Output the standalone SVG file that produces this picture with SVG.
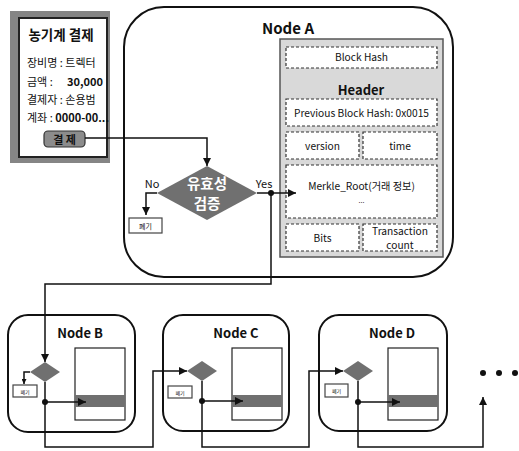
<svg xmlns="http://www.w3.org/2000/svg" width="519" height="451" viewBox="0 0 519 451">
<defs>
<marker id="ah" viewBox="0 0 10 10" refX="10" refY="5" markerWidth="9" markerHeight="8" markerUnits="userSpaceOnUse" orient="auto"><path d="M0,0 L10,5 L0,10 z" fill="#111"/></marker>
<marker id="ahs" viewBox="0 0 10 10" refX="10" refY="5" markerWidth="6" markerHeight="5" markerUnits="userSpaceOnUse" orient="auto"><path d="M0,0 L10,5 L0,10 z" fill="#111"/></marker>
<style>
text{font-family:"Noto Sans CJK KR","Liberation Sans",sans-serif;fill:#111}
.node{fill:#fff;stroke:#111;stroke-width:2}
.dash{fill:#fff;stroke:#333;stroke-width:1.2;stroke-dasharray:3 2}
.c{text-anchor:middle}
.t11{font-size:11px}
.t10{font-size:10.2px}
.ttl{font-size:13.5px;font-weight:bold}
.nl{font-size:13px;font-weight:bold}
.dia{fill:#707070}
.dt{font-size:14.5px;font-weight:bold;fill:#fff}
.blk{fill:#fff;stroke:#222;stroke-width:1.2}
.band{fill:#707070}
.dis{fill:#fff;stroke:#444;stroke-width:1.2}
.line{fill:none;stroke:#111;stroke-width:1.5}
</style>
</defs>

<g id="payment">
<rect x="10" y="11" width="100" height="152" fill="#858585"/>
<rect x="19" y="18" width="88" height="139" fill="#fff" stroke="#222" stroke-width="2"/>
<text x="61" y="40" class="c ttl">농기계 결제</text>
<text x="27" y="67" class="t11">장비명 : 트렉터</text>
<text x="27" y="86" class="t11">금액 :</text>
<text x="67" y="86" class="t11" font-weight="bold">30,000</text>
<text x="27" y="104" class="t11">결제자 : 손용범</text>
<text x="27" y="122" class="t11">계좌 : <tspan font-weight="bold">0000-00...</tspan></text>
<rect x="44" y="131" width="41" height="16" rx="4" fill="#8c8c8c" stroke="#333" stroke-width="1.2"/>
<text x="64.5" y="143.5" class="c t11" font-weight="bold" fill="#222">결  제</text>
</g>

<g id="nodeA">
<rect x="124" y="7" width="329" height="270" rx="40" class="node"/>
<text x="288" y="34" class="c" font-size="15" font-weight="bold">Node A</text>
<rect x="280" y="39" width="163" height="218" fill="#d9d9d9" stroke="#555" stroke-width="1.5"/>
<rect x="286" y="47" width="151" height="21" class="dash"/>
<text x="361.5" y="61" class="c t10">Block Hash</text>
<text x="361" y="94.5" class="c" font-size="13" font-weight="bold">Header</text>
<rect x="286" y="99" width="151" height="27" class="dash"/>
<text x="361.5" y="116.5" class="c t10">Previous Block Hash: 0x0015</text>
<rect x="286" y="132" width="73" height="27" class="dash"/>
<text x="322.5" y="149.5" class="c t10">version</text>
<rect x="363" y="132" width="74" height="27" class="dash"/>
<text x="400" y="149.5" class="c t10">time</text>
<rect x="286" y="165" width="151" height="53" class="dash"/>
<text x="361.5" y="190" class="c t10">Merkle_Root(거래 정보)</text>
<text x="361.5" y="203" class="c" font-size="7" fill="#666">...</text>
<rect x="286" y="224" width="73" height="27" class="dash"/>
<text x="322.5" y="241.5" class="c t10">Bits</text>
<rect x="363" y="224" width="74" height="27" class="dash"/>
<text x="400" y="234.5" class="c t10">Transaction</text>
<text x="400" y="248.5" class="c t10">count</text>
<polygon points="207,166 257,193 207,220 157,193" class="dia"/>
<text x="207" y="188.5" class="c dt" style="fill:#fff">유효성</text>
<text x="207" y="208.5" class="c dt" style="fill:#fff">검증</text>
<text x="152" y="188" class="c t11">No</text>
<text x="264" y="188" class="c t11">Yes</text>
<rect x="129" y="218" width="33" height="15" class="dis"/>
<text x="145.5" y="228.5" class="c" font-size="7">폐기</text>
</g>

<g id="nodeB">
<rect x="8" y="315" width="127" height="117" rx="20" class="node"/>
<text x="80" y="338" class="c nl">Node B</text>
<polygon points="45,362 60,372 45,382 30,372" class="dia"/>
<rect x="13" y="385" width="24" height="12" class="dis"/>
<text x="25" y="393.5" class="c" font-size="5">폐기</text>
<rect x="75" y="348" width="50" height="72" class="blk"/>
<rect x="75" y="395" width="50" height="12" class="band"/>
</g>

<g id="nodeC">
<rect x="163" y="315" width="126" height="116" rx="20" class="node"/>
<text x="236" y="338" class="c nl">Node C</text>
<polygon points="202,361 217,371 202,381 187,371" class="dia"/>
<rect x="168" y="386" width="24" height="12" class="dis"/>
<text x="180" y="394.5" class="c" font-size="5">폐기</text>
<rect x="232" y="348" width="50" height="72" class="blk"/>
<rect x="232" y="395" width="50" height="12" class="band"/>
</g>

<g id="nodeD">
<rect x="319" y="315" width="128" height="116" rx="20" class="node"/>
<text x="392" y="338" class="c nl">Node D</text>
<polygon points="358,361 373,371 358,381 343,371" class="dia"/>
<rect x="325" y="384" width="23" height="13" class="dis"/>
<text x="336.5" y="393" class="c" font-size="5">폐기</text>
<rect x="388" y="348" width="50" height="72" class="blk"/>
<rect x="388" y="395" width="50" height="12" class="band"/>
</g>

<g id="more">
<circle cx="483" cy="373" r="3" fill="#111"/>
<circle cx="499" cy="373" r="3" fill="#111"/>
<circle cx="515" cy="373" r="3" fill="#111"/>
</g>

<g id="connectors">
<path d="M85,138 H207 V166" class="line" marker-end="url(#ah)"/>
<path d="M157,193 H146 V215" class="line" marker-end="url(#ah)"/>
<path d="M257,193 H296" class="line" marker-end="url(#ah)"/>
<circle cx="271" cy="193" r="3" fill="#111"/>
<path d="M271,193 V284 H45 V362" class="line" marker-end="url(#ah)"/>
<path d="M30,372 H24 V384" class="line" stroke-width="1" marker-end="url(#ahs)"/>
<circle cx="45" cy="402" r="3" fill="#111"/>
<path d="M45,402 H86" class="line" marker-end="url(#ah)"/>
<path d="M45,382 V447 H153 V371 H187" class="line" marker-end="url(#ah)"/>
<circle cx="202" cy="401" r="3" fill="#111"/>
<path d="M202,401 H243" class="line" marker-end="url(#ah)"/>
<path d="M202,381 V447 H309 V371 H343" class="line" marker-end="url(#ah)"/>
<circle cx="358" cy="402" r="3" fill="#111"/>
<path d="M358,402 H400" class="line" marker-end="url(#ah)"/>
<path d="M358,381 V447 H483 V397" class="line" marker-end="url(#ah)"/>
</g>
</svg>
